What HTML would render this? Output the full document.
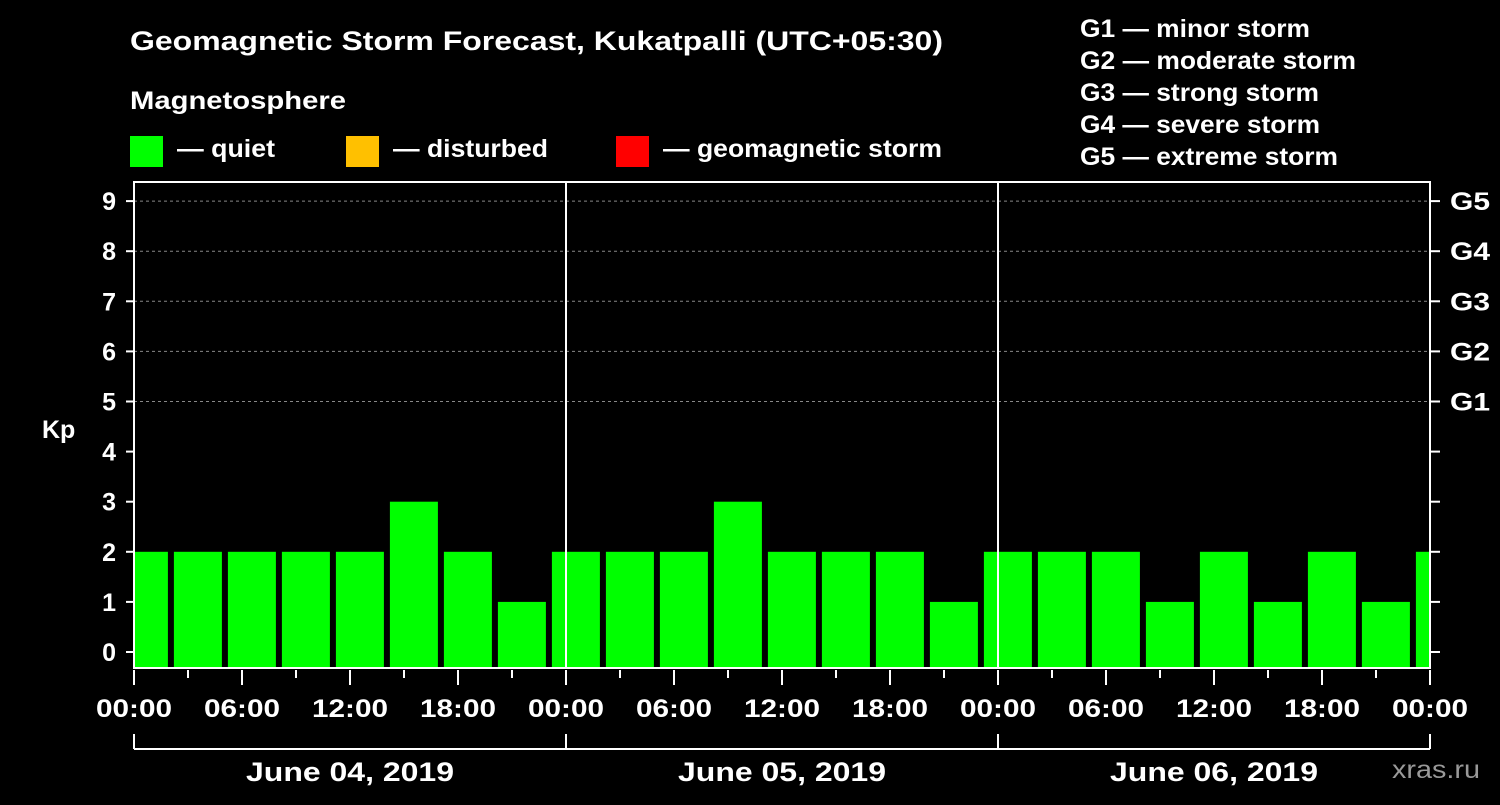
<!DOCTYPE html>
<html><head><meta charset="utf-8"><style>
body{margin:0;background:#000;width:1500px;height:800px;overflow:hidden}
svg text{font-family:"Liberation Sans",Arial,sans-serif;font-weight:bold;fill:#fff}
</style></head><body>
<svg id="c" width="1500" height="800">
<text x="130" y="50" font-size="27" textLength="813" lengthAdjust="spacingAndGlyphs">Geomagnetic Storm Forecast, Kukatpalli (UTC+05:30)</text>
<text x="130" y="109" font-size="25" textLength="216" lengthAdjust="spacingAndGlyphs">Magnetosphere</text>
<rect x="130" y="136" width="33" height="31" fill="#00ff00"/>
<text x="177" y="157" font-size="25" textLength="98" lengthAdjust="spacingAndGlyphs">— quiet</text>
<rect x="346" y="136" width="33" height="31" fill="#ffc000"/>
<text x="393" y="157" font-size="25" textLength="155" lengthAdjust="spacingAndGlyphs">— disturbed</text>
<rect x="616" y="136" width="33" height="31" fill="#ff0000"/>
<text x="663" y="157" font-size="25" textLength="279" lengthAdjust="spacingAndGlyphs">— geomagnetic storm</text>
<g font-size="25">
<text x="1080" y="37" textLength="230" lengthAdjust="spacingAndGlyphs">G1 — minor storm</text>
<text x="1080" y="69" textLength="276" lengthAdjust="spacingAndGlyphs">G2 — moderate storm</text>
<text x="1080" y="101" textLength="239" lengthAdjust="spacingAndGlyphs">G3 — strong storm</text>
<text x="1080" y="133" textLength="240" lengthAdjust="spacingAndGlyphs">G4 — severe storm</text>
<text x="1080" y="165" textLength="258" lengthAdjust="spacingAndGlyphs">G5 — extreme storm</text>
</g>
<text x="42" y="438" font-size="25">Kp</text>
<text x="1392" y="778" font-size="25" textLength="88" lengthAdjust="spacingAndGlyphs" style="fill:#999;font-weight:normal">xras.ru</text>
<defs><clipPath id="pc"><rect x="135" y="182" width="1294" height="486"/></clipPath></defs>
<g id="grid"></g><g id="bars" clip-path="url(#pc)"></g><g id="axes"></g>
</svg>
<script>
const kpValues=[2,2,2,2,2,3,2,1,2,2,2,3,2,2,2,1,2,2,2,1,2,1,2,1,2];
const barStartHours=[-0.95];
const yTicks=[0,1,2,3,4,5,6,7,8,9];
const gLabels=["G1","G2","G3","G4","G5"];
const xTickLabels=["00:00","06:00","12:00","18:00","00:00","06:00","12:00","18:00","00:00","06:00","12:00","18:00","00:00"];
const dayLabels=["June 04, 2019","June 05, 2019","June 06, 2019"];
const X0=134,X1=1430,Y0=652,PY=50.1,totalH=72;
const xs=h=>X0+(X1-X0)*h/totalH, ys=v=>Y0-v*PY;
const NS="http://www.w3.org/2000/svg";
function mk(p,t,a){const e=document.createElementNS(NS,t);for(const k in a)e.setAttribute(k,a[k]);p.appendChild(e);return e;}
const grid=document.getElementById('grid'),bars=document.getElementById('bars'),axes=document.getElementById('axes');
for(let v=5;v<=9;v++){const l=mk(grid,'line',{x1:X0,x2:X1,y1:ys(v),y2:ys(v),stroke:'#888','stroke-dasharray':'3,3'});

}
kpValues.forEach((v,i)=>{const h0=barStartHours[0]+3*i;const x=xs(h0)+3,w=xs(h0+3)-xs(h0)-6;
const r=mk(bars,'rect',{x:x,y:ys(v),width:w,height:668-ys(v),fill:v>=5?'#ff0000':v>=4?'#ffc000':'#00ff00'});

});
mk(axes,'rect',{x:X0,y:182,width:X1-X0,height:486,fill:'none',stroke:'#fff','stroke-width':2});
[24,48].forEach(h=>{const l=mk(axes,'line',{x1:xs(h),x2:xs(h),y1:182,y2:668,stroke:'#fff','stroke-width':2});

});
yTicks.forEach(v=>{const y=ys(v);
mk(axes,'line',{x1:126,x2:X0,y1:y,y2:y,stroke:'#fff','stroke-width':2});
mk(axes,'line',{x1:X1,x2:1440,y1:y,y2:y,stroke:'#fff','stroke-width':2});
const t=mk(axes,'text',{x:116,y:y+9,'text-anchor':'end','font-size':25});t.textContent=v;

});
gLabels.forEach((g,i)=>{const t=mk(axes,'text',{x:1450,y:ys(5+i)+9,'font-size':25,textLength:40,lengthAdjust:'spacingAndGlyphs'});t.textContent=g;

});
for(let h=0;h<=72;h+=3){const x=xs(h);mk(axes,'line',{x1:x,x2:x,y1:670,y2:h%6==0?685:678,stroke:'#fff','stroke-width':2});}
xTickLabels.forEach((s,i)=>{const t=mk(axes,'text',{x:xs(6*i)-38,y:717,'font-size':25,textLength:76,lengthAdjust:'spacingAndGlyphs'});t.textContent=s;

});
mk(axes,'line',{x1:X0,x2:X1,y1:749,y2:749,stroke:'#fff','stroke-width':2});
[0,24,48,72].forEach(h=>mk(axes,'line',{x1:xs(h),x2:xs(h),y1:734,y2:749,stroke:'#fff','stroke-width':2}));
dayLabels.forEach((s,i)=>{const t=mk(axes,'text',{x:xs(24*i+12)-104,y:781,'font-size':27,textLength:208,lengthAdjust:'spacingAndGlyphs'});t.textContent=s;

});
</script>
</body></html>
